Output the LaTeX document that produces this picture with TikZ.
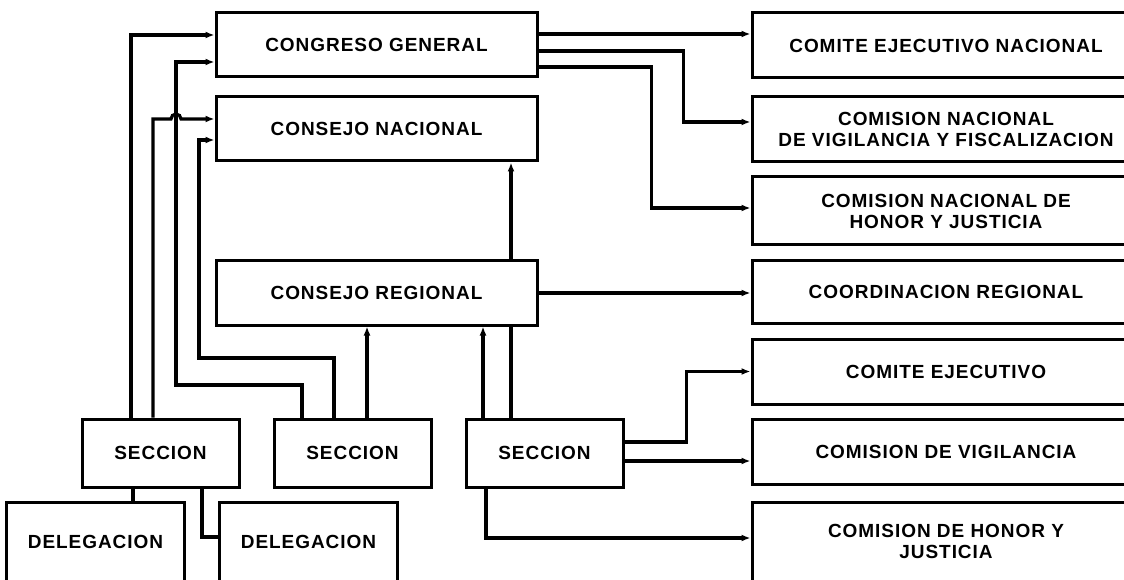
\documentclass[tikz,border=0pt]{standalone}
\usepackage{fontspec}
\newfontfamily\orgfont{Liberation Sans}[LetterSpace=5]
\usetikzlibrary{arrows.meta, positioning, backgrounds}

\begin{document}
\begin{tikzpicture}[
    x=1pt, y=1pt,
    node distance=16pt and 32pt,
    organo/.style={rectangle, draw=black, fill=white, line width=3pt,
                   minimum width=321pt, minimum height=64pt, inner sep=0pt,
                   align=center, font=\orgfont\bfseries\fontsize{19}{21}\selectfont},
    comision/.style={organo, minimum width=388pt, minimum height=65pt},
    base/.style={organo, minimum width=157pt, minimum height=68pt},
    delegacion/.style={organo, minimum width=178pt, minimum height=80pt},
    arrow/.style={-{Latex[length=9pt,width=7pt]}, line width=3.2pt},
    line/.style={line width=3.2pt}
]
\useasboundingbox (0,0) rectangle (1124,579);
\clip (0,0) rectangle (1124,579);

% Organos nacionales y regional
\node[organo] (cg) at (376.5,534) {CONGRESO GENERAL};
\node[organo, below=17pt of cg] (cn) {CONSEJO NACIONAL};
\node[organo, below=97pt of cn] (cr) {CONSEJO REGIONAL};

% Comisiones (columna derecha)
\node[comision] (cen) at (946,533.5) {COMITE EJECUTIVO NACIONAL};
\node[comision, below=16pt of cen] (cnvf) {COMISION NACIONAL\\DE VIGILANCIA Y FISCALIZACION};
\node[comision, below=12pt of cnvf, minimum height=68pt] (cnhj) {COMISION NACIONAL DE\\HONOR Y JUSTICIA};
\node[comision, below=13pt of cnhj, minimum height=62pt] (crg) {COORDINACION REGIONAL};
\node[comision, below=13pt of crg] (ce) {COMITE EJECUTIVO};
\node[comision, below=12pt of ce] (cv) {COMISION DE VIGILANCIA};
\node[comision, below=15pt of cv, minimum height=90pt, text depth=12pt] (chj) {COMISION DE HONOR Y\\JUSTICIA};

% Secciones y delegaciones
\node[base] (s1) at (160.5,126) {SECCION};
\node[base, right=32pt of s1] (s2) {SECCION};
\node[base, right=32pt of s2] (s3) {SECCION};
\node[delegacion] (d1) at (95.5,37) {DELEGACION};
\node[delegacion, right=32pt of d1] (d2) {DELEGACION};

% Cruce con salto
\coordinate (cruce) at (176,460);

% Flechas de las secciones hacia los organos
\draw[arrow] ([xshift=-29.5pt]s1.north) |- ([yshift=10pt]cg.west);
\draw[arrow] ([xshift=-7.5pt]s1.north) |- ([xshift=-5pt]cruce)
    arc[start angle=180, end angle=0, radius=5pt] -- ([yshift=10pt]cn.west);
\draw[arrow] ([xshift=-50.5pt]s2.north) |- (176,194) |- ([yshift=-17pt]cg.west);
\draw[arrow] ([xshift=-18.5pt]s2.north) |- (199,221) |- ([yshift=-11pt]cn.west);
\draw[arrow] ([xshift=14.5pt]s2.north) -- ([xshift=14.5pt]s2.north |- cr.south);
\draw[arrow] ([xshift=-61.5pt]s3.north) -- ([xshift=-61.5pt]s3.north |- cr.south);
\begin{scope}[on background layer]
\draw[arrow] ([xshift=-33.5pt]s3.north) -- ([xshift=-33.5pt]s3.north |- cn.south);
\end{scope}

% Flechas hacia las comisiones
\draw[arrow] ([yshift=11pt]cg.east) -- ([yshift=11pt]cg.east -| cen.west);
\draw[arrow] ([yshift=-6pt]cg.east) -| ([xshift=-67pt, yshift=7.5pt]cnvf.west) -- ([yshift=7.5pt]cnvf.west);
\draw[arrow] ([yshift=-22pt]cg.east) -| ([xshift=-99pt, yshift=3pt]cnhj.west) -- ([yshift=3pt]cnhj.west);
\draw[arrow] (cr.east) -- (cr.east -| crg.west);
\draw[arrow] ([yshift=11pt]s3.east) -| ([xshift=-64pt]ce.west) -- (ce.west);
\draw[arrow] ([yshift=-8pt]s3.east) -- ([yshift=-8pt]s3.east -| cv.west);
\draw[arrow] ([xshift=-58.5pt]s3.south) |- ([yshift=9pt]chj.west);

% Secciones a delegaciones
\draw[line] ([xshift=-27.5pt]s1.south) -- ([xshift=-27.5pt]s1.south |- d1.north);
\draw[line] ([xshift=41.5pt]s1.south) |- ([yshift=5pt]d2.west);

\end{tikzpicture}
\end{document}
